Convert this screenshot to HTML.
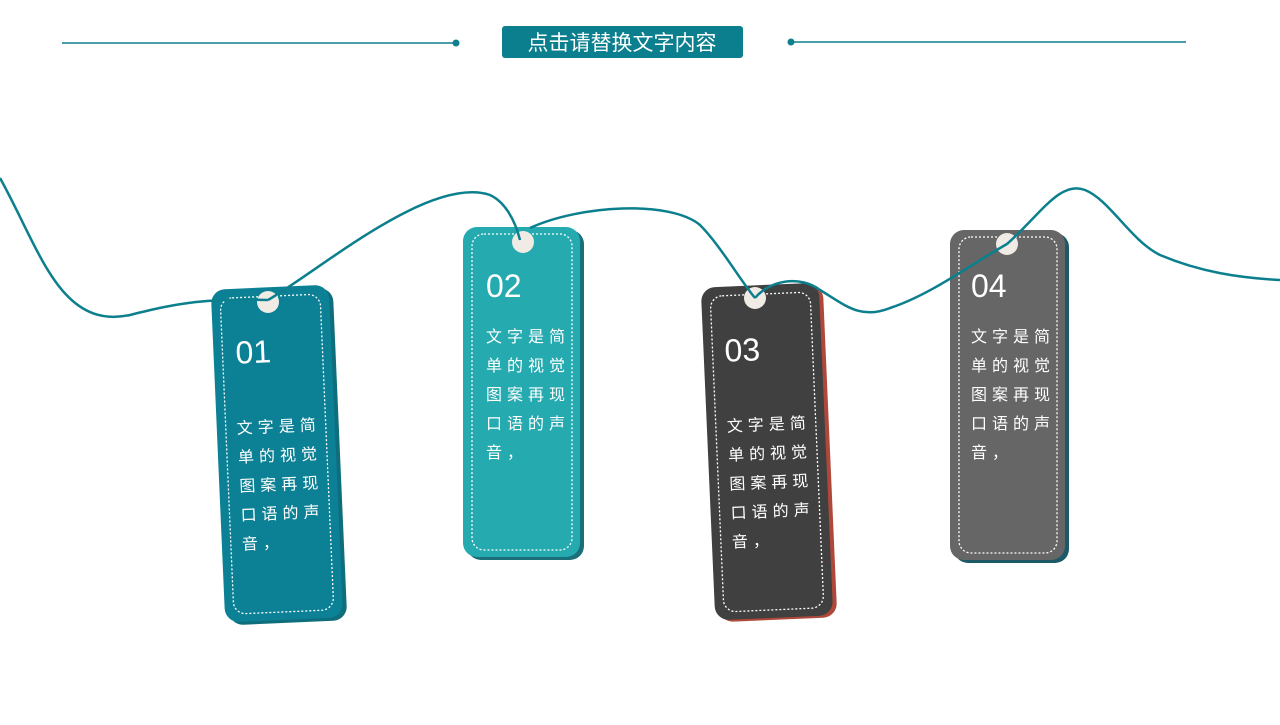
<!DOCTYPE html>
<html><head><meta charset="utf-8"><style>
body{margin:0;width:1280px;height:720px;background:#fff;overflow:hidden;font-family:"Liberation Sans","Noto Sans CJK SC",sans-serif}
</style></head><body>
<svg width="1280" height="720" viewBox="0 0 1280 720" xmlns="http://www.w3.org/2000/svg" font-family="Liberation Sans, Noto Sans CJK SC, sans-serif">
<line x1="62" y1="43" x2="456" y2="43" stroke="#0e7f8e" stroke-width="1.5"/>
<circle cx="456" cy="43" r="3.5" fill="#0e7f8e"/>
<line x1="791" y1="42" x2="1186" y2="42" stroke="#0e7f8e" stroke-width="1.5"/>
<circle cx="791" cy="42" r="3.5" fill="#0e7f8e"/>
<rect x="502" y="26" width="241" height="32" rx="3" fill="#0c7f8f"/>
<text x="622" y="50" text-anchor="middle" font-size="21" fill="#fff">点击请替换文字内容</text>

<!-- tag 1 -->
<g transform="rotate(-2.5 279 455)">
<rect x="222" y="290" width="118" height="333" rx="14" fill="#0f6e7c"/>
<rect x="218" y="287" width="118" height="333" rx="14" fill="#0c8094"/>
<rect x="227" y="296" width="100" height="316" rx="12" fill="none" stroke="#fff" stroke-width="1.3" stroke-dasharray="2 2"/>
<text x="240" y="362" font-size="32" fill="#fff">01</text>
<g font-size="16" fill="#fff" letter-spacing="5">
<text x="238" y="432">文字是简</text><text x="238" y="461">单的视觉</text><text x="238" y="490">图案再现</text><text x="238" y="519">口语的声</text><text x="238" y="548">音，</text></g>
</g>
<!-- tag 2 -->
<rect x="467" y="230" width="117" height="330" rx="14" fill="#1a6f7a"/>
<rect x="463" y="227" width="117" height="330" rx="14" fill="#25aab0"/>
<rect x="472" y="234" width="100" height="316" rx="12" fill="none" stroke="#fff" stroke-width="1.3" stroke-dasharray="2 2"/>
<text x="486" y="297" font-size="32" fill="#fff">02</text>
<g font-size="16" fill="#fff" letter-spacing="5">
<text x="486" y="342">文字是简</text><text x="486" y="371">单的视觉</text><text x="486" y="400">图案再现</text><text x="486" y="429">口语的声</text><text x="486" y="458">音，</text></g>
<!-- tag 3 -->
<g transform="rotate(-2.5 767 452)">
<rect x="712" y="287" width="118" height="333" rx="14" fill="#b0483a"/>
<rect x="708" y="285" width="118" height="333" rx="14" fill="#404040"/>
<rect x="717" y="294" width="100" height="316" rx="12" fill="none" stroke="#fff" stroke-width="1.3" stroke-dasharray="2 2"/>
<text x="729" y="360" font-size="32" fill="#fff">03</text>
<g font-size="16" fill="#fff" letter-spacing="5">
<text x="728" y="430">文字是简</text><text x="728" y="459">单的视觉</text><text x="728" y="488">图案再现</text><text x="728" y="517">口语的声</text><text x="728" y="546">音，</text></g>
</g>
<!-- tag 4 -->
<rect x="954" y="233" width="115" height="330" rx="14" fill="#1d5a68"/>
<rect x="950" y="230" width="115" height="330" rx="14" fill="#666666"/>
<rect x="959" y="237" width="98" height="316" rx="12" fill="none" stroke="#fff" stroke-width="1.3" stroke-dasharray="2 2"/>
<text x="971" y="297" font-size="32" fill="#fff">04</text>
<g font-size="16" fill="#fff" letter-spacing="5">
<text x="971" y="342">文字是简</text><text x="971" y="371">单的视觉</text><text x="971" y="400">图案再现</text><text x="971" y="429">口语的声</text><text x="971" y="458">音，</text></g>

<!-- holes -->
<g fill="#f1ebe6">
<circle cx="268" cy="302" r="11"/><circle cx="523" cy="242" r="11"/><circle cx="755" cy="298" r="11"/><circle cx="1007" cy="244" r="11"/>
</g>
<!-- string -->
<path d="M0,178 C40,250 60,330 130,315 C170,305 200,298 268,300 M268,300 C320,270 430,175 490,195 C505,202 515,220 520,240 M530,228 C580,205 670,200 700,225 C720,245 740,280 755,298 M755,298 C770,280 800,275 820,290 C845,305 860,320 890,308 C930,295 970,265 1007,244 M1007,244 C1040,215 1060,180 1085,190 C1110,200 1130,240 1160,255 C1200,272 1240,278 1280,280" fill="none" stroke="#0b7f8d" stroke-width="2.5"/>
</svg>
</body></html>
